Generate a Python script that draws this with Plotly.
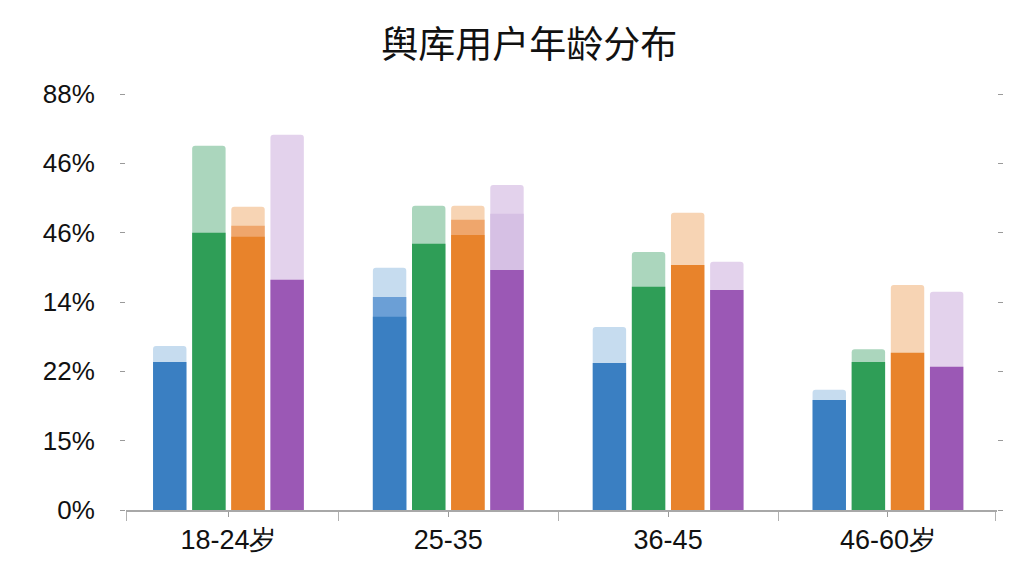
import plotly.graph_objects as go

categories = ["18-24岁", "25-35", "36-45", "46-60岁"]
series_names = ["蓝", "绿", "橙", "紫"]

# values on the linear axis (each gridline step = 15 units)
blue_solid = [32.0, 41.8, 31.8, 23.8]
blue_mid = [None, 46.1, None, None]
blue_top = [35.5, 52.4, 39.6, 26.0]

green_solid = [60.0, 57.6, 48.3, 32.0]
green_mid = [None, None, None, None]
green_top = [78.8, 65.8, 55.8, 34.8]

orange_solid = [59.1, 59.5, 53.0, 34.0]
orange_mid = [61.5, 62.8, None, None]
orange_top = [65.6, 65.8, 64.3, 48.7]

purple_solid = [49.8, 51.9, 47.6, 31.0]
purple_mid = [None, 64.1, None, None]
purple_top = [81.2, 70.3, 53.7, 47.2]

tick_vals = [0, 15, 30, 45, 60, 75, 90]
tick_text = ["0%", "15%", "22%", "14%", "46%", "46%", "88%"]

series = [
    (blue_solid, blue_mid, blue_top, "#3a7fc2", "#6b9fd6", "#c6dcef"),
    (green_solid, green_mid, green_top, "#2f9e57", "#6cbf8c", "#abd6bd"),
    (orange_solid, orange_mid, orange_top, "#e8832b", "#efa66c", "#f7d4b4"),
    (purple_solid, purple_mid, purple_top, "#9b58b5", "#d6c0e4", "#e3d2ec"),
]

slot = 0.178
bw = 0.152
offsets = [-1.5 * slot, -0.5 * slot, 0.5 * slot, 1.5 * slot]

fig = go.Figure()
idx = list(range(len(categories)))
for (solid, mid, top, c_solid, c_mid, c_top), off, name in zip(series, offsets, series_names):
    xs = [i + off for i in idx]
    fig.add_trace(go.Bar(x=xs, y=top, width=bw, marker=dict(color=c_top, line=dict(width=0)),
                         name=name + "上", showlegend=False))
    fig.add_trace(go.Bar(x=xs, y=mid, width=bw, marker=dict(color=c_mid, line=dict(width=0)),
                         name=name + "中", showlegend=False))
    fig.add_trace(go.Bar(x=xs, y=solid, width=bw, marker=dict(color=c_solid, line=dict(width=0)),
                         name=name, showlegend=False))

fig.update_layout(
    width=1024, height=576,
    barmode="overlay",
    barcornerradius=3,
    paper_bgcolor="white", plot_bgcolor="white",
    margin=dict(l=118, r=35, t=86, b=74),
    title=dict(text="舆库用户年龄分布", x=0.509, xanchor="center", y=0.936, yanchor="middle",
               font=dict(family="Noto Sans CJK SC", size=37, color="#111111", weight=400)),
    font=dict(family="Liberation Sans, Arial, sans-serif", color="#111111"),
)
fig.update_xaxes(
    range=[-0.466, 3.496],
    tickvals=idx, ticktext=categories,
    ticks="outside", ticklen=5, tickcolor="#9a9a9a",
    showline=True, linecolor="#a8a8a8", linewidth=2,
    showgrid=False, zeroline=False,
    tickfont=dict(size=27, family="Liberation Sans, Arial", color="#111111"),
    minor=dict(tickvals=[-0.466, 0.5, 1.5, 2.5, 3.487], ticks="outside", ticklen=9, tickcolor="#b0b0b0"),
)
fig.update_yaxes(
    range=[0, 90],
    tickvals=tick_vals, ticktext=tick_text,
    ticks="outside", ticklen=5, tickcolor="#9a9a9a", mirror="ticks",
    ticklabelstandoff=20,
    showline=False, showgrid=False, zeroline=False,
    tickfont=dict(size=26, color="#111111"),
)

fig.write_html("out.html")
